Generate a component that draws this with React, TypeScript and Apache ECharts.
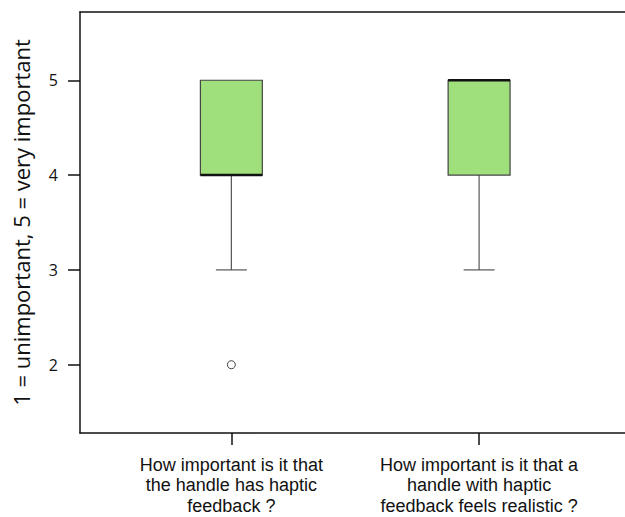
import React, { useEffect, useRef } from "react";
import * as echarts from "echarts";

const categories = [
  "How important is it that\nthe handle has haptic\nfeedback ?",
  "How important is it that a\nhandle with haptic\nfeedback feels realistic ?",
];
const positions = [1, 2];
const whiskerLow = [3, 3];
const quartile1 = [4, 4];
const medians = [4, 5];
const quartile3 = [5, 5];
const whiskerHigh = [5, 5];
const outlierPositions = [1];
const outlierValues = [2];
const yTicks = [2, 3, 4, 5];
const yTitle = "1 = unimportant, 5 = very important";

const FONT = "Open Sans";
const LABEL_FONT = "Liberation Sans";
const BOX_W = 0.25;
const CAP_W = 0.125;

export default function App() {
  const ref = useRef<HTMLDivElement>(null);
  useEffect(() => {
    if (!ref.current) return;
    const chart = echarts.init(ref.current, null, { renderer: "svg" });
    const boxData = positions.map((p, i) => [
      p,
      whiskerLow[i],
      quartile1[i],
      medians[i],
      quartile3[i],
      whiskerHigh[i],
    ]);
    const outData = outlierPositions.map((p, i) => [p, outlierValues[i]]);
    const option: any = {
      animation: false,
      backgroundColor: "#fff",
      grid: {
        left: 80,
        right: 0,
        top: 12,
        bottom: 84,
        containLabel: false,
        outerBoundsMode: "none",
      },
      xAxis: [
        {
          type: "value",
          min: 0.389,
          max: 2.589,
          position: "bottom",
          splitLine: { show: false },
          axisLine: { show: true, lineStyle: { color: "#111", width: 1.5 } },
          axisTick: {
            show: true,
            customValues: positions,
            length: 12,
            lineStyle: { color: "#111", width: 1.5 },
          },
          axisLabel: {
            show: true,
            customValues: positions,
            formatter: (v: number) => {
              const i = positions.indexOf(Math.round(v));
              return i >= 0 ? categories[i] : "";
            },
            margin: 21.5,
            fontFamily: LABEL_FONT,
            fontSize: 18,
            lineHeight: 20.5,
            color: "#111",
            align: "center",
          },
        },
        {
          type: "value",
          min: 0.389,
          max: 2.589,
          position: "top",
          splitLine: { show: false },
          axisLine: { show: true, lineStyle: { color: "#111", width: 1.5 } },
          axisTick: { show: false },
          axisLabel: { show: false },
        },
      ],
      yAxis: {
        type: "value",
        min: 1.28,
        max: 5.72,
        splitLine: { show: false },
        axisLine: { show: true, lineStyle: { color: "#111", width: 1.5 } },
        axisTick: {
          show: true,
          customValues: yTicks,
          length: 12,
          lineStyle: { color: "#111", width: 1.5 },
        },
        axisLabel: {
          show: true,
          customValues: yTicks,
          margin: 22,
          fontFamily: FONT,
          fontSize: 16,
          color: "#111",
        },
        name: yTitle,
        nameLocation: "middle",
        nameGap: 48,
        nameTextStyle: { fontFamily: FONT, fontSize: 22, color: "#111" },
      },
      series: [
        {
          type: "custom",
          xAxisIndex: 0,
          data: boxData,
          renderItem: (params: any, api: any) => {
            const x = api.value(0);
            const lo = api.value(1);
            const q1 = api.value(2);
            const med = api.value(3);
            const q3 = api.value(4);
            const hi = api.value(5);
            const bw = api.size([BOX_W, 0])[0];
            const cw = api.size([CAP_W, 0])[0];
            const pLo = api.coord([x, lo]);
            const pQ1 = api.coord([x, q1]);
            const pMed = api.coord([x, med]);
            const pQ3 = api.coord([x, q3]);
            const pHi = api.coord([x, hi]);
            const cx = pMed[0];
            const wStyle = { stroke: "#555", lineWidth: 1.2 };
            const children: any[] = [];
            if (lo < q1) {
              children.push({
                type: "line",
                shape: { x1: cx, y1: pQ1[1], x2: cx, y2: pLo[1] },
                style: wStyle,
              });
              children.push({
                type: "line",
                shape: { x1: cx - cw / 2, y1: pLo[1], x2: cx + cw / 2, y2: pLo[1] },
                style: wStyle,
              });
            }
            if (hi > q3) {
              children.push({
                type: "line",
                shape: { x1: cx, y1: pQ3[1], x2: cx, y2: pHi[1] },
                style: wStyle,
              });
              children.push({
                type: "line",
                shape: { x1: cx - cw / 2, y1: pHi[1], x2: cx + cw / 2, y2: pHi[1] },
                style: wStyle,
              });
            }
            children.push({
              type: "rect",
              shape: { x: cx - bw / 2, y: pQ3[1], width: bw, height: pQ1[1] - pQ3[1] },
              style: { fill: "#a0e07c", stroke: "#444", lineWidth: 1.2 },
            });
            children.push({
              type: "line",
              shape: { x1: cx - bw / 2, y1: pMed[1], x2: cx + bw / 2, y2: pMed[1] },
              style: { stroke: "#111", lineWidth: 2.5 },
            });
            return { type: "group", children };
          },
        },
        {
          type: "scatter",
          xAxisIndex: 0,
          data: outData,
          symbol: "circle",
          symbolSize: 8,
          itemStyle: { color: "#fff", borderColor: "#111", borderWidth: 1 },
        },
      ],
    };
    chart.setOption(option);
    return () => chart.dispose();
  }, []);
  return (
    <div
      ref={ref}
      style={{ position: "fixed", left: 0, top: 0, width: 625, height: 517 }}
    />
  );
}
